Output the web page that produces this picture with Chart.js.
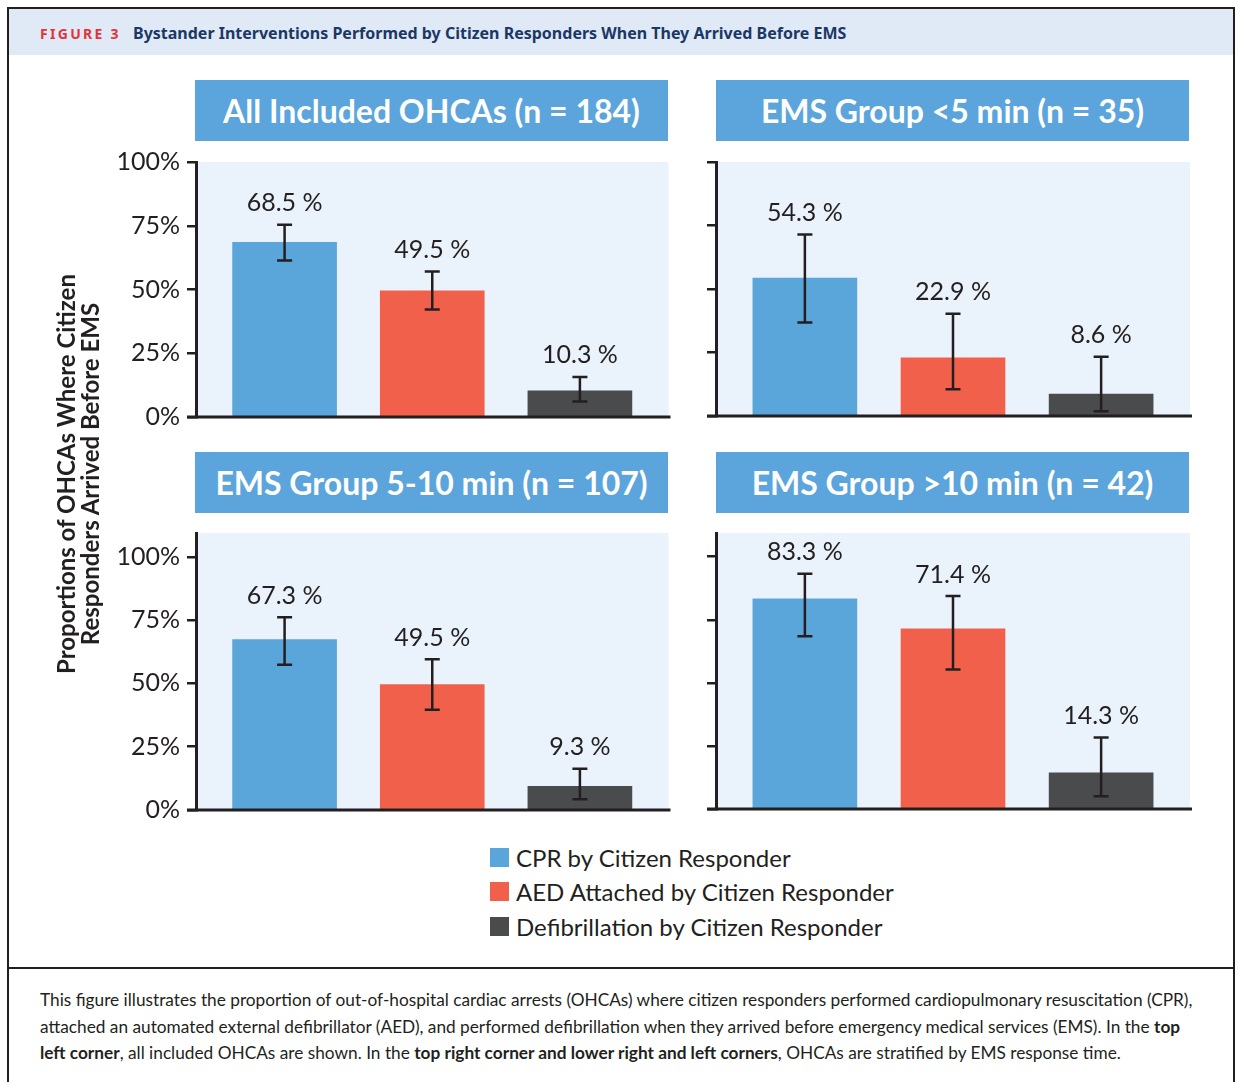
<!DOCTYPE html>
<html>
<head>
<meta charset="utf-8">
<script src="https://cdn.jsdelivr.net/npm/chart.js@4.4.1/dist/chart.umd.min.js"></script>
<style>
    body {
        margin: 0;
        width: 1238px;
        height: 1082px;
        position: relative;
        overflow: hidden;
        background: #fff;
        font-family: Lato, "Noto Sans", sans-serif;
        color: #231f20;
    }
    .frame {
        position: absolute;
        left: 7px; top: 7px;
        width: 1228px; height: 1080px;
        border: 2px solid #231f20;
        border-bottom: none;
        box-sizing: border-box;
    }
    .header {
        position: absolute;
        left: 9px; top: 9px;
        width: 1224px; height: 46px;
        background: #dfeaf6;
    }
    .fig-no {
        position: absolute;
        left: 40px; top: 24px;
        font-family: "Noto Sans", sans-serif;
        font-size: 14px; font-weight: 700;
        letter-spacing: 2.3px;
        color: #e5323b;
    }
    .fig-title {
        position: absolute;
        left: 133px; top: 22px;
        font-family: "Noto Sans", sans-serif;
        font-size: 16px; font-weight: 700;
        color: #1c3766;
    }
    .sep {
        position: absolute;
        left: 7px; top: 967px;
        width: 1228px; height: 2px;
        background: #231f20;
    }
    canvas { position: absolute; }
    .panel-title {
        position: absolute;
        height: 61px; width: 473px;
        background: #5ba5dc;
        color: #fff;
        font-size: 32px; font-weight: 700;
        display: flex; align-items: center; justify-content: center;
        z-index: 2;
    }
    .y-title {
        position: absolute;
        left: -142px; top: 450px;
        width: 440px;
        text-align: center;
        font-size: 24px; font-weight: 700;
        line-height: 24px;
        transform: rotate(-90deg);
    }
    .legend {
        position: absolute;
        left: 490px; top: 840px;
    }
    .legend-row {
        display: flex; align-items: center;
        height: 34.5px;
        font-size: 24px;
    }
    .legend-row span.box {
        width: 19px; height: 19px;
        margin-right: 7px;
        display: inline-block;
    }
    .caption {
        position: absolute;
        left: 40px; top: 987px;
        width: 1190px;
        font-size: 17.25px;
        line-height: 26.5px;
        white-space: nowrap;
    }
</style>
</head>
<body>

<div class="frame"></div>
<div class="header"></div>
<div class="fig-no">FIGURE 3</div>
<div class="fig-title">Bystander Interventions Performed by Citizen Responders When They Arrived Before EMS</div>

<canvas id="chart-all" width="580" height="309" style="left:100px; top:130px;"></canvas>
<canvas id="chart-under5" width="580" height="306" style="left:620px; top:130px;"></canvas>
<canvas id="chart-5to10" width="580" height="327" style="left:100px; top:505px;"></canvas>
<canvas id="chart-over10" width="580" height="324" style="left:620px; top:505px;"></canvas>

<div class="panel-title" style="left:195px; top:80px;" id="title-all"></div>
<div class="panel-title" style="left:716px; top:80px;" id="title-under5"></div>
<div class="panel-title" style="left:195px; top:452px;" id="title-5to10"></div>
<div class="panel-title" style="left:716px; top:452px;" id="title-over10"></div>

<div class="y-title">Proportions of OHCAs Where Citizen<br>Responders Arrived Before EMS</div>

<div class="legend" id="legend"></div>

<div class="sep"></div>
<div class="caption">
This figure illustrates the proportion of out-of-hospital cardiac arrests (OHCAs) where citizen responders performed cardiopulmonary resuscitation (CPR),<br>
attached an automated external defibrillator (AED), and performed defibrillation when they arrived before emergency medical services (EMS). In the <b>top</b><br>
<b>left corner</b>, all included OHCAs are shown. In the <b>top right corner and lower right and left corners</b>, OHCAs are stratified by EMS response time.
</div>

<script>
// =========================
// DADOS
// =========================
const categories = [
    'CPR by Citizen Responder',
    'AED Attached by Citizen Responder',
    'Defibrillation by Citizen Responder'
];
const seriesColors = ['#5aa5da', '#f0604a', '#4a4b4d'];

const yTicks = [0, 25, 50, 75, 100];

// All included OHCAs
const allValues = [68.5, 49.5, 10.3];
const allLow = [61.4, 42.2, 6.1];
const allHigh = [75.4, 57.1, 15.7];

// EMS < 5 min
const under5Values = [54.3, 22.9, 8.6];
const under5Low = [36.8, 10.5, 1.9];
const under5High = [71.5, 40.3, 23.3];

// EMS 5-10 min
const mid5to10Values = [67.3, 49.5, 9.3];
const mid5to10Low = [57.4, 39.6, 4.2];
const mid5to10High = [76.1, 59.5, 16.3];

// EMS > 10 min
const over10Values = [83.3, 71.4, 14.3];
const over10Low = [68.5, 55.3, 5.1];
const over10High = [93.2, 84.4, 28.3];

const ink = '#231f20';
const plotBg = '#eaf2fb';

// ========================
// PLUGIN: fundo, linha base, barras de erro, rótulos
// ========================
const panelDecor = {
    id: 'panelDecor',
    beforeDraw(chart) {
        const { ctx, chartArea: a } = chart;
        ctx.save();
        ctx.fillStyle = plotBg;
        ctx.fillRect(a.left, a.top, a.right - a.left, a.bottom - a.top);
        ctx.restore();
    },
    afterDatasetsDraw(chart, args, opts) {
        const { ctx, chartArea: a } = chart;
        const x = chart.scales.x;
        const y = chart.scales.y;

        ctx.save();

        // linha base
        const y0 = y.getPixelForValue(0);
        ctx.strokeStyle = ink;
        ctx.lineWidth = 3;
        ctx.beginPath();
        ctx.moveTo(a.left - 9, y0);
        ctx.lineTo(a.right + 2, y0);
        ctx.stroke();

        // barras de erro
        ctx.lineWidth = 2.5;
        opts.values.forEach((v, i) => {
            const px = x.getPixelForValue(i);
            const top = y.getPixelForValue(opts.high[i]);
            const bot = y.getPixelForValue(opts.low[i]);

            ctx.beginPath();
            ctx.moveTo(px, top);
            ctx.lineTo(px, bot);
            ctx.moveTo(px - 7.5, top);
            ctx.lineTo(px + 7.5, top);
            ctx.moveTo(px - 7.5, bot);
            ctx.lineTo(px + 7.5, bot);
            ctx.stroke();

            ctx.fillStyle = ink;
            ctx.font = '25px Lato';
            ctx.textAlign = 'center';
            ctx.textBaseline = 'alphabetic';
            ctx.fillText(v.toFixed(1) + ' %', px, top - 13.5);
        });

        ctx.restore();
    }
};

// ========================
// GRÁFICO DE UM PAINEL
// ========================
function renderPanel(canvasId, values, low, high, opts) {

    const ctx = document.getElementById(canvasId).getContext('2d');

    new Chart(ctx, {
        type: 'bar',
        data: {
            labels: categories,
            datasets: [{
                data: values.map((v, i) => ({ x: i, y: v })),
                backgroundColor: seriesColors,
                borderWidth: 0,
                barThickness: 104
            }]
        },
        options: {
            responsive: false,
            animation: false,
            devicePixelRatio: 1,
            layout: {
                padding: { left: 0, top: opts.padTop, right: opts.padRight, bottom: 20 }
            },
            scales: {
                x: {
                    type: 'linear',
                    offset: false,
                    min: -0.6,
                    max: 2.6,
                    display: false
                },
                y: {
                    min: 0,
                    max: opts.yMax,
                    afterBuildTicks: s => {
                        s.ticks = yTicks.map(v => ({ value: v }));
                    },
                    afterFit: s => {
                        s.width = 96;
                    },
                    grid: {
                        display: true,
                        drawOnChartArea: false,
                        drawTicks: true,
                        tickLength: 9,
                        color: ink,
                        lineWidth: 2.5
                    },
                    border: {
                        display: true,
                        color: ink,
                        width: 3
                    },
                    ticks: {
                        display: opts.showLabels,
                        callback: v => v + '%',
                        font: { family: 'Lato', size: 25 },
                        color: ink,
                        padding: 7
                    }
                }
            },
            plugins: {
                legend: { display: false },
                tooltip: { enabled: false },
                panelDecor: { values, low, high }
            }
        },
        plugins: [panelDecor]
    });
}

// ========================
// TÍTULOS E LEGENDA
// ========================
const panelTitles = [
    'All Included OHCAs (n = 184)',
    'EMS Group <5 min (n = 35)',
    'EMS Group 5-10 min (n = 107)',
    'EMS Group >10 min (n = 42)'
];

['title-all', 'title-under5', 'title-5to10', 'title-over10'].forEach((id, i) => {
    document.getElementById(id).textContent = panelTitles[i];
});

document.getElementById('legend').innerHTML = categories
    .map((c, i) => `
        <div class="legend-row">
            <span class="box" style="background:${seriesColors[i]}"></span>${c}
        </div>
    `)
    .join('');

// ========================
// RENDER
// ========================
renderPanel('chart-all', allValues, allLow, allHigh,
    { padTop: 32, padRight: 11.5, yMax: 100, showLabels: true });

renderPanel('chart-under5', under5Values, under5Low, under5High,
    { padTop: 32, padRight: 10, yMax: 100, showLabels: false });

renderPanel('chart-5to10', mid5to10Values, mid5to10Low, mid5to10High,
    { padTop: 28, padRight: 11.5, yMax: 109.4, showLabels: true });

renderPanel('chart-over10', over10Values, over10Low, over10High,
    { padTop: 28, padRight: 10, yMax: 109.4, showLabels: false });
</script>
</body>
</html>
